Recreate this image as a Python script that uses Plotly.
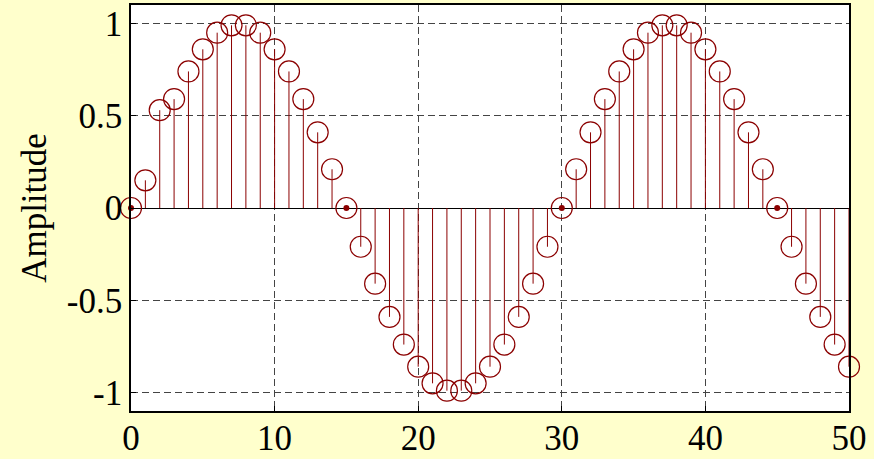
import plotly.graph_objects as go

n = list(range(51))
amplitude = [0.0, 0.15, 0.53, 0.59, 0.74, 0.86, 0.95, 0.99, 0.99, 0.95,
             0.86, 0.74, 0.59, 0.41, 0.21, 0.0, -0.21, -0.41, -0.59, -0.74,
             -0.86, -0.95, -0.99, -0.99, -0.95, -0.86, -0.74, -0.59, -0.41, -0.21,
             0.0, 0.21, 0.41, 0.59, 0.74, 0.86, 0.95, 0.99, 0.99, 0.95,
             0.86, 0.74, 0.59, 0.41, 0.21, 0.0, -0.21, -0.41, -0.59, -0.74,
             -0.86]
ytick_vals = [-1, -0.5, 0, 0.5, 1]
ytick_text = ["-1", "-0.5", "0", "0.5", "1"]
xtick_vals = [0, 10, 20, 30, 40, 50]

RED = "#8B0000"
FONT = "Liberation Serif, Times New Roman, serif"

sx, sy = [], []
for xi, yi in zip(n, amplitude):
    sx += [xi, xi, None]
    sy += [0, yi, None]

zero_x = [xi for xi, yi in zip(n, amplitude) if yi == 0]
zero_y = [0 for _ in zero_x]

fig = go.Figure()
fig.add_trace(go.Scatter(x=sx, y=sy, mode="lines",
                         line=dict(color=RED, width=1), hoverinfo="skip",
                         showlegend=False, cliponaxis=False))
fig.add_trace(go.Scatter(x=n, y=amplitude, mode="markers",
                         marker=dict(symbol="circle-open", size=21,
                                     color=RED, line=dict(width=1.2, color=RED)),
                         showlegend=False, cliponaxis=False))
fig.add_trace(go.Scatter(x=zero_x, y=zero_y, mode="markers",
                         marker=dict(symbol="circle", size=6, color=RED),
                         showlegend=False, cliponaxis=False))

fig.update_layout(
    width=874, height=459,
    margin=dict(l=131, r=25, t=5, b=48),
    paper_bgcolor="#FFFFCC",
    plot_bgcolor="white",
    font=dict(family=FONT, size=35, color="black"),
    showlegend=False,
)
fig.update_xaxes(range=[0, 50], tickvals=xtick_vals, automargin=False,
                 ticklabelstandoff=-5,
                 showgrid=True, gridcolor="#444444", griddash="7px,4px", gridwidth=1,
                 zeroline=False, showline=True, linecolor="black", linewidth=1.5,
                 mirror=True, ticks="inside", ticklen=5, tickcolor="black",
                 tickfont=dict(family=FONT, size=35))
fig.update_yaxes(range=[-1.1, 1.1], tickvals=ytick_vals, ticktext=ytick_text,
                 automargin=False,
                 showgrid=True, gridcolor="#444444", griddash="7px,4px", gridwidth=1,
                 zeroline=True, zerolinecolor="black", zerolinewidth=1,
                 showline=True, linecolor="black", linewidth=1.5,
                 mirror=True, ticks="inside", ticklen=5, tickcolor="black",
                 tickfont=dict(family=FONT, size=35),
                 title=dict(text="Amplitude", font=dict(family=FONT, size=35), standoff=10))

fig.write_html("out.html")
